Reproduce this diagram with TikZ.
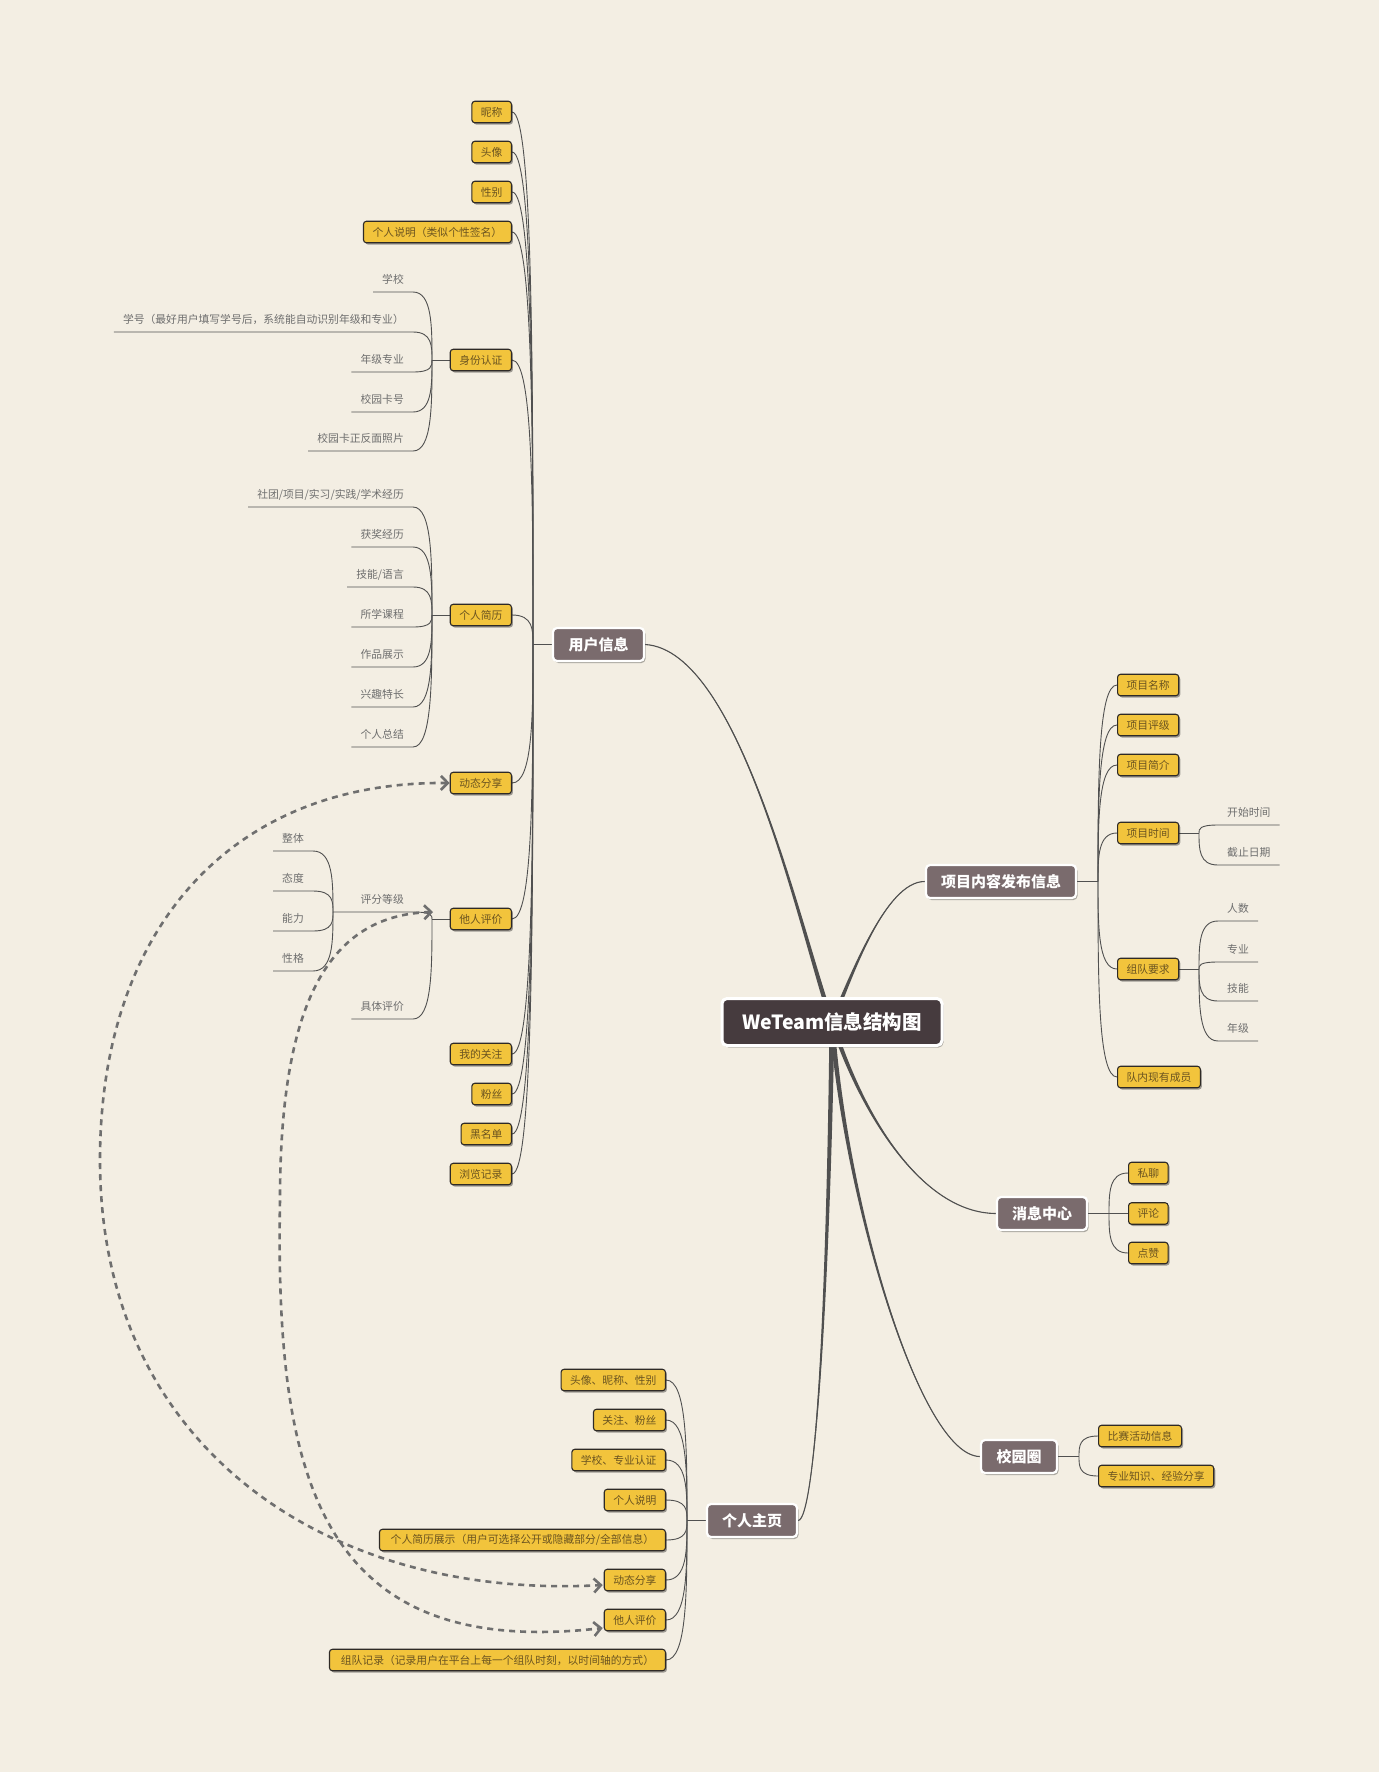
\documentclass[tikz,border=0pt]{standalone}
\usepackage{fontspec}
\setmainfont{Noto Sans CJK SC}
\usetikzlibrary{calc,shadows,arrows.meta}
\pgfdeclarelayer{back}
\pgfdeclarelayer{lines}
\pgfsetlayers{back,lines,main}
\definecolor{bgc}{HTML}{F3EEE3}
\definecolor{yfill}{HTML}{F2C43C}
\definecolor{ybord}{HTML}{2E2A26}
\definecolor{ytext}{HTML}{6B5420}
\definecolor{mfill}{HTML}{7A6B6D}
\definecolor{rfill}{HTML}{463B3E}
\definecolor{linec}{HTML}{505050}
\definecolor{leaftext}{HTML}{6E6E6E}
\definecolor{relc}{HTML}{6F6F6F}
\tikzset{
 yel/.style={draw=ybord, fill=yfill, rounded corners=3pt, line width=1.1pt, minimum height=21.5pt, inner xsep=9pt, inner ysep=0pt, font=\fontsize{10.8}{12}\selectfont, text=ytext, drop shadow={shadow xshift=1.5pt, shadow yshift=-1.8pt, opacity=0.35, fill=black}},
 mainbox/.style={draw=white, fill=mfill, rounded corners=4pt, line width=2.2pt, minimum height=33pt, inner xsep=10pt, font=\bfseries\fontsize{15}{17}\selectfont, text=white, drop shadow={shadow xshift=1.5pt, shadow yshift=-2pt, opacity=0.3, fill=black}},
 rootbox/.style={draw=white, fill=rfill, rounded corners=5pt, line width=3pt, minimum width=220pt, minimum height=47pt, font=\bfseries\fontsize{19.5}{22}\selectfont, text=white, drop shadow={shadow xshift=1.5pt, shadow yshift=-2pt, opacity=0.3, fill=black}},
 leaf/.style={inner xsep=9pt, inner ysep=0pt, minimum height=24pt, font=\fontsize{10.8}{12}\selectfont, text=leaftext},
 conn/.style={draw=linec, line width=0.9pt},
 br/.style={to path={let \p1=(\tikztostart), \p2=(\tikztotarget) in .. controls (\x2,\y1) and (\x2,{0.5*\y1+0.5*\y2}) .. (\tikztotarget)}},
 rel/.style={draw=relc, line width=2.6pt, dash pattern=on 6pt off 5pt, arrows={Straight Barb[length=7pt,width=14pt]-Straight Barb[length=7pt,width=14pt]}}
}
\newcommand\taperline[3]{%
 \fill[linec] (#1) .. controls (#2) and ($(#3)+(-1.5,0)$) .. ($(root.center)+(-2.5,0)$) -- ($(root.center)+(2.5,0)$) .. controls ($(#3)+(1.5,0)$) and (#2) .. (#1);
 \draw[linec,line width=1.1pt] (#1) .. controls (#2) and (#3) .. (root.center);}
\begin{document}
\begin{tikzpicture}[x=1pt,y=-1pt]
\begin{pgfonlayer}{back}
\fill[bgc] (0,0) rectangle (1379,1772);
\end{pgfonlayer}
\useasboundingbox (0,0) rectangle (1379,1772);

% root and main topics
\node[rootbox] (root) at (832,1022) {WeTeam信息结构图};
\node[mainbox, minimum width=91pt] (ui) at (598.5,644.5) {用户信息};
\node[mainbox, minimum width=150pt] (proj) at (1001,881.5) {项目内容发布信息};
\node[mainbox, minimum width=90pt] (msg) at (1042,1213.5) {消息中心};
\node[mainbox, minimum width=76pt] (camp) at (1019,1456.5) {校园圈};
\node[mainbox, minimum width=90pt] (pm) at (752,1520.5) {个人主页};

% junctions
\coordinate (jui) at (533,644.5);
\coordinate (jproj) at (1098,881.5);
\coordinate (jmsg) at (1109,1213.5);
\coordinate (jcamp) at (1079,1456.5);
\coordinate (jpm) at (687,1520.5);
\coordinate (j5) at (432,360);
\coordinate (j6) at (432,615);
\coordinate (j8) at (432,919);
\coordinate (jc1) at (333,912);
\coordinate (jq4) at (1199,833);
\coordinate (jq5) at (1199,969);

% user info children
\node[yel, anchor=east, minimum width=38pt] (u1) at (512,112) {昵称};
\node[yel, anchor=east, minimum width=38pt] (u2) at (512,152) {头像};
\node[yel, anchor=east, minimum width=38pt] (u3) at (512,192) {性别};
\node[yel, anchor=east, minimum width=148pt] (u4) at (512,232) {个人说明（类似个性签名）};
\node[yel, anchor=east, minimum width=60pt] (u5) at (512,360) {身份认证};
\node[yel, anchor=east, minimum width=60pt] (u6) at (512,615) {个人简历};
\node[yel, anchor=east, minimum width=60pt] (u7) at (512,783) {动态分享};
\node[yel, anchor=east, minimum width=60pt] (u8) at (512,919) {他人评价};
\node[yel, anchor=east, minimum width=60pt] (u9) at (512,1054) {我的关注};
\node[yel, anchor=east, minimum width=38pt] (u10) at (512,1094) {粉丝};
\node[yel, anchor=east, minimum width=49pt] (u11) at (512,1134) {黑名单};
\node[yel, anchor=east, minimum width=60pt] (u12) at (512,1174) {浏览记录};

% identity leaves
\node[leaf, anchor=south east] (a1) at (413,292) {学校};
\node[leaf, anchor=south east] (a2) at (413,332) {学号（最好用户填写学号后，系统能自动识别年级和专业）};
\node[leaf, anchor=south east] (a3) at (413,372) {年级专业};
\node[leaf, anchor=south east] (a4) at (413,412) {校园卡号};
\node[leaf, anchor=south east] (a5) at (413,451) {校园卡正反面照片};

% resume leaves
\node[leaf, anchor=south east] (b1) at (413,507) {社团/项目/实习/实践/学术经历};
\node[leaf, anchor=south east] (b2) at (413,547) {获奖经历};
\node[leaf, anchor=south east] (b3) at (413,587) {技能/语言};
\node[leaf, anchor=south east] (b4) at (413,627) {所学课程};
\node[leaf, anchor=south east] (b5) at (413,667) {作品展示};
\node[leaf, anchor=south east] (b6) at (413,707) {兴趣特长};
\node[leaf, anchor=south east] (b7) at (413,747) {个人总结};

% evaluation leaves
\node[leaf, anchor=south east] (c1) at (413,912) {评分等级};
\node[leaf, anchor=south east] (c2) at (413,1019) {具体评价};
\node[leaf, anchor=south east] (d1) at (313,851) {整体};
\node[leaf, anchor=south east] (d2) at (313,891) {态度};
\node[leaf, anchor=south east] (d3) at (313,931) {能力};
\node[leaf, anchor=south east] (d4) at (313,971) {性格};

% project children
\node[yel, anchor=west, minimum width=60pt] (q1) at (1117,685) {项目名称};
\node[yel, anchor=west, minimum width=60pt] (q2) at (1117,725) {项目评级};
\node[yel, anchor=west, minimum width=60pt] (q3) at (1117,765) {项目简介};
\node[yel, anchor=west, minimum width=60pt] (q4) at (1117,833) {项目时间};
\node[yel, anchor=west, minimum width=60pt] (q5) at (1117,969) {组队要求};
\node[yel, anchor=west, minimum width=82pt] (q6) at (1117,1077) {队内现有成员};
\node[leaf, anchor=south west] (e1) at (1218,825) {开始时间};
\node[leaf, anchor=south west] (e2) at (1218,865) {截止日期};
\node[leaf, anchor=south west] (f1) at (1218,921) {人数};
\node[leaf, anchor=south west] (f2) at (1218,962) {专业};
\node[leaf, anchor=south west] (f3) at (1218,1001) {技能};
\node[leaf, anchor=south west] (f4) at (1218,1041) {年级};

% message children
\node[yel, anchor=west, minimum width=38pt] (m1) at (1128,1173) {私聊};
\node[yel, anchor=west, minimum width=38pt] (m2) at (1128,1213.5) {评论};
\node[yel, anchor=west, minimum width=38pt] (m3) at (1128,1253) {点赞};

% campus children
\node[yel, anchor=west, minimum width=83pt] (k1) at (1098,1436) {比赛活动信息};
\node[yel, anchor=west, minimum width=115pt] (k2) at (1098,1476) {专业知识、经验分享};

% personal page children
\node[yel, anchor=east, minimum width=104pt] (p1) at (666,1380) {头像、昵称、性别};
\node[yel, anchor=east, minimum width=72pt] (p2) at (666,1420) {关注、粉丝};
\node[yel, anchor=east, minimum width=93pt] (p3) at (666,1460) {学校、专业认证};
\node[yel, anchor=east, minimum width=61pt] (p4) at (666,1500) {个人说明};
\node[yel, anchor=east, minimum width=286pt] (p5) at (666,1540) {个人简历展示（用户可选择公开或隐藏部分/全部信息）};
\node[yel, anchor=east, minimum width=61pt] (p6) at (666,1580) {动态分享};
\node[yel, anchor=east, minimum width=61pt] (p7) at (666,1620) {他人评价};
\node[yel, anchor=east, minimum width=336pt] (p8) at (666,1660) {组队记录（记录用户在平台上每一个组队时刻，以时间轴的方式）};

\begin{pgfonlayer}{lines}
\taperline{ui.east}{740,650}{800,930}
\taperline{proj.west}{885,881}{850,980}
\taperline{msg.west}{920,1213}{860,1110}
\taperline{camp.west}{920,1456}{845,1200}
\taperline{pm.east}{815,1520}{828,1300}

\draw[conn] (ui.west) -- (jui);
\foreach \i in {1,...,12} {\draw[conn] (u\i.east) to[br] (jui);}
\draw[conn] (u5.west) -- (j5);
\foreach \i in {1,...,5} {\draw[conn] (a\i.south west) -- (a\i.south east) to[br] (j5);}
\draw[conn] (u6.west) -- (j6);
\foreach \i in {1,...,7} {\draw[conn] (b\i.south west) -- (b\i.south east) to[br] (j6);}
\draw[conn] (u8.west) -- (j8);
\draw[conn] (jc1) -- (c1.south west) -- (c1.south east) to[br] (j8);
\draw[conn] (c2.south west) -- (c2.south east) to[br] (j8);
\foreach \i in {1,...,4} {\draw[conn] (d\i.south west) -- (d\i.south east) to[br] (jc1);}

\draw[conn] (proj.east) -- (jproj);
\foreach \i in {1,...,6} {\draw[conn] (q\i.west) to[br] (jproj);}
\draw[conn] (q4.east) -- (jq4);
\foreach \i in {1,2} {\draw[conn] (e\i.south east) -- (e\i.south west) to[br] (jq4);}
\draw[conn] (q5.east) -- (jq5);
\foreach \i in {1,...,4} {\draw[conn] (f\i.south east) -- (f\i.south west) to[br] (jq5);}

\draw[conn] (msg.east) -- (jmsg);
\foreach \i in {1,2,3} {\draw[conn] (m\i.west) to[br] (jmsg);}
\draw[conn] (camp.east) -- (jcamp);
\foreach \i in {1,2} {\draw[conn] (k\i.west) to[br] (jcamp);}
\draw[conn] (pm.west) -- (jpm);
\foreach \i in {1,...,8} {\draw[conn] (p\i.east) to[br] (jpm);}

% relations
\coordinate (relA) at (433,912);
\draw[rel] (u7.west) .. controls (230,781) and (100,930) .. (100,1160) .. controls (100,1450) and (330,1600) .. ($(p6.west)+(-1,5)$);
\draw[rel] (relA) .. controls (330,915) and (280,1000) .. (280,1200) .. controls (275,1480) and (320,1660) .. ($(p7.west)+(-1,8)$);
\end{pgfonlayer}
\end{tikzpicture}
\end{document}
